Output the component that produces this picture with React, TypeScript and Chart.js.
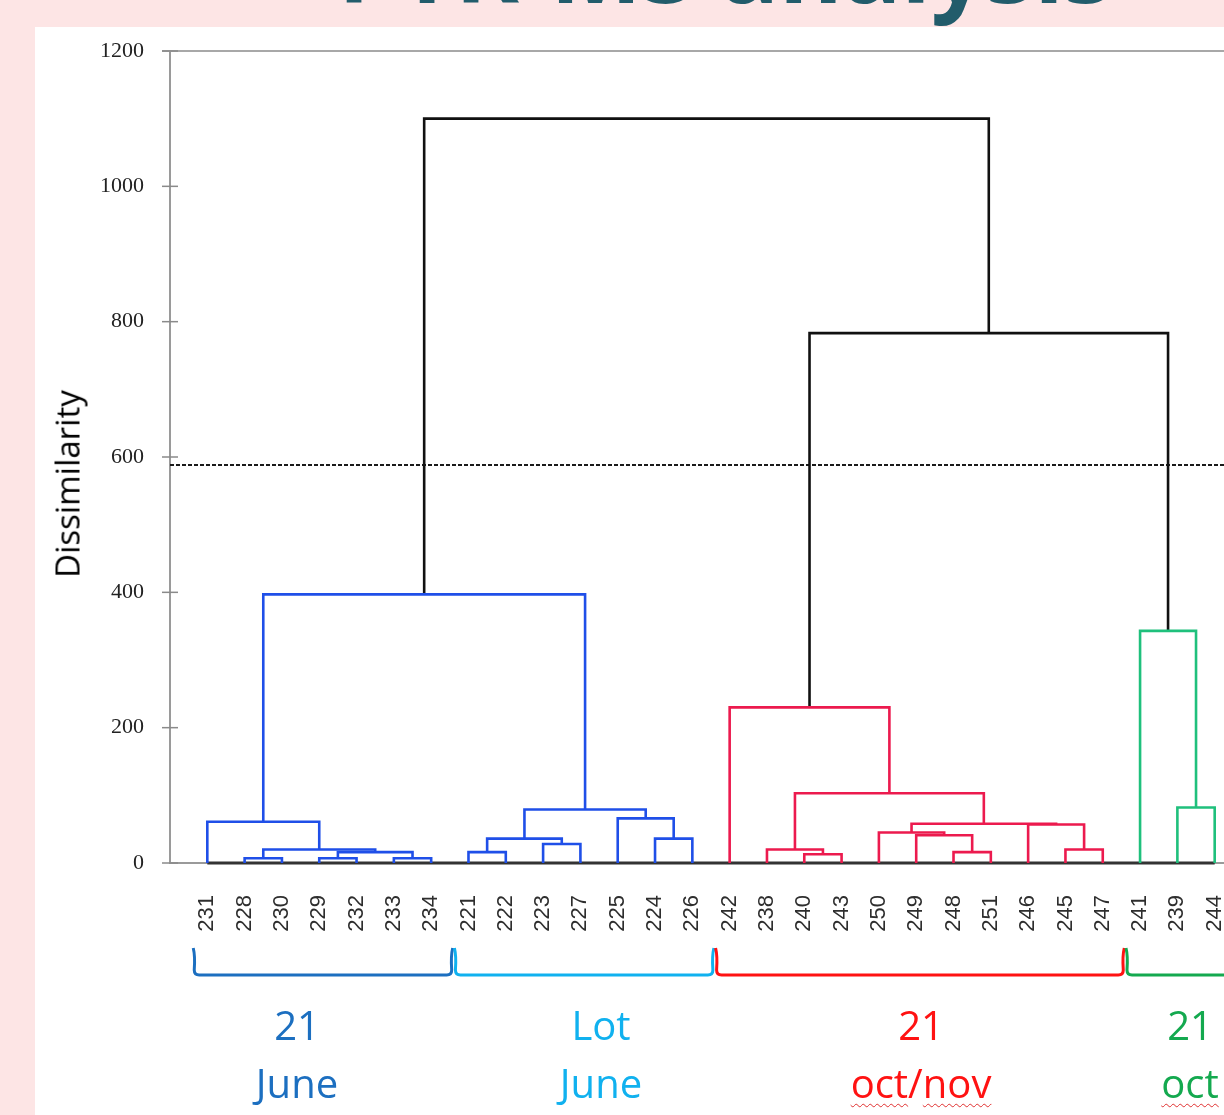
import React, { useEffect, useRef } from 'react';
import { Chart, registerables } from 'chart.js';

Chart.register(...registerables);

// ---------- data ----------
const leafLabels = [
  '231', '228', '230', '229', '232', '233', '234',
  '221', '222', '223', '227', '225', '224', '226',
  '242', '238', '240', '243', '250', '249', '248', '251', '246', '245', '247',
  '241', '239', '244',
];

// [childA, childB, dissimilarity, cluster]; ids >= leafLabels.length point to earlier merges
const merges: [number, number, number, string][] = [
  [1, 2, 7, 'blue'],        // 28
  [3, 4, 7, 'blue'],        // 29
  [5, 6, 7, 'blue'],        // 30
  [29, 30, 16, 'blue'],     // 31
  [28, 31, 20, 'blue'],     // 32
  [0, 32, 61, 'blue'],      // 33
  [7, 8, 16, 'blue'],       // 34
  [9, 10, 28, 'blue'],      // 35
  [34, 35, 36, 'blue'],     // 36
  [12, 13, 36, 'blue'],     // 37
  [11, 37, 66, 'blue'],     // 38
  [36, 38, 79, 'blue'],     // 39
  [33, 39, 397, 'blue'],    // 40
  [16, 17, 13, 'red'],      // 41
  [15, 41, 20, 'red'],      // 42
  [20, 21, 16, 'red'],      // 43
  [19, 43, 41, 'red'],      // 44
  [18, 44, 45, 'red'],      // 45
  [23, 24, 20, 'red'],      // 46
  [22, 46, 57, 'red'],      // 47
  [45, 47, 58, 'red'],      // 48
  [42, 48, 103, 'red'],     // 49
  [14, 49, 230, 'red'],     // 50
  [26, 27, 82, 'green'],    // 51
  [25, 51, 343, 'green'],   // 52
  [50, 52, 783, 'black'],   // 53
  [40, 53, 1100, 'black'],  // 54
];

const yMax = 1200;
const yStep = 200;
const truncationLevel = 588;

const groupTop = ['21', 'Lot', '21', '21'];
const groupBottom = ['June', 'June', 'oct/nov', 'oct'];
const groupFirstLeaf = [0, 7, 14, 25];
const groupLastLeaf = [6, 13, 24, 27];

// ---------- styles ----------
const clusterColors: Record<string, string> = {
  blue: '#1f4fe8',
  red: '#ec1a4e',
  green: '#1fc07c',
  black: '#111111',
};
const groupColors = ['#1c6fc0', '#10b1ef', '#ff1212', '#14a94f'];
const groupLabelCenter = [297, 601, 921, 1190];

const n = leafLabels.length;
const nodeX: number[] = [];
const nodeH: number[] = [];
leafLabels.forEach((_, i) => {
  nodeX[i] = i;
  nodeH[i] = 0;
});
merges.forEach(([a, b, h], k) => {
  nodeX[n + k] = (nodeX[a] + nodeX[b]) / 2;
  nodeH[n + k] = h;
});

const decorPlugin = {
  id: 'decor',
  afterDraw(chart: any) {
    const { ctx, chartArea, scales } = chart;
    const xs = scales.x;
    const ys = scales.y;
    ctx.save();
    // top frame line
    ctx.strokeStyle = '#a8a8a8';
    ctx.lineWidth = 2;
    const yTop = ys.getPixelForValue(yMax);
    ctx.beginPath();
    ctx.moveTo(chartArea.left - 8, yTop);
    ctx.lineTo(chartArea.right, yTop);
    ctx.stroke();
    // crossing tick marks
    ctx.strokeStyle = '#8a8a8a';
    ctx.lineWidth = 1.5;
    ys.ticks.forEach((t: any) => {
      const y = ys.getPixelForValue(t.value);
      ctx.beginPath();
      ctx.moveTo(chartArea.left - 8, y);
      ctx.lineTo(chartArea.left + 8, y);
      ctx.stroke();
    });
    // group brackets
    const top = chartArea.bottom + 85;
    const bot = chartArea.bottom + 112;
    groupFirstLeaf.forEach((f, g) => {
      const x0 = xs.getPixelForValue(f - 0.35);
      const x1 = xs.getPixelForValue(groupLastLeaf[g] + 0.55);
      ctx.strokeStyle = groupColors[g];
      ctx.lineWidth = 3;
      ctx.beginPath();
      ctx.moveTo(x0 - 1, top);
      ctx.quadraticCurveTo(x0 + 1, top + 8, x0, bot - 5);
      ctx.quadraticCurveTo(x0, bot, x0 + 5, bot);
      ctx.lineTo(x1 - 5, bot);
      ctx.quadraticCurveTo(x1, bot, x1, bot - 5);
      ctx.quadraticCurveTo(x1 - 1, top + 8, x1 + 1, top);
      ctx.stroke();
    });
    ctx.restore();
  },
};

export default function App() {
  const canvasRef = useRef<HTMLCanvasElement>(null);

  useEffect(() => {
    if (!canvasRef.current) return;
    const linkSets = merges.map(([a, b, h, c]) => ({
      data: [
        { x: nodeX[a], y: nodeH[a] },
        { x: nodeX[a], y: h },
        { x: nodeX[b], y: h },
        { x: nodeX[b], y: nodeH[b] },
      ],
      borderColor: clusterColors[c],
      borderWidth: 2.6,
      pointRadius: 0,
      tension: 0,
      fill: false,
      clip: false as any,
    }));
    const baseline = {
      data: [
        { x: 0, y: 0 },
        { x: n - 1, y: 0 },
      ],
      borderColor: '#333333',
      borderWidth: 3,
      pointRadius: 0,
      fill: false,
      clip: false as any,
    };
    const cutLine = {
      data: [
        { x: -1, y: truncationLevel },
        { x: n, y: truncationLevel },
      ],
      borderColor: '#1a1a1a',
      borderWidth: 2,
      borderDash: [4, 2],
      pointRadius: 0,
      fill: false,
      clip: false as any,
    };

    const chart = new Chart(canvasRef.current, {
      type: 'line',
      data: { datasets: [...linkSets, baseline, cutLine] as any },
      options: {
        animation: false,
        responsive: false,
        events: [],
        layout: { padding: { top: 24, right: 23, left: 0, bottom: 0 } },
        plugins: { legend: { display: false }, tooltip: { enabled: false } },
        scales: {
          x: {
            type: 'linear',
            min: -1,
            max: n,
            afterBuildTicks: (s: any) => {
              s.ticks = leafLabels.map((_, i) => ({ value: i }));
            },
            afterFit: (s: any) => {
              s.height = 252;
              s.paddingLeft = 0;
              s.paddingRight = 0;
            },
            grid: { display: false, drawTicks: false },
            border: { display: true, color: '#9a9a9a', width: 2 },
            ticks: {
              autoSkip: false,
              minRotation: 90,
              maxRotation: 90,
              padding: 32,
              color: '#2e2e2e',
              font: { family: 'Liberation Sans', size: 22 },
              callback: (v: any) => leafLabels[v] ?? '',
            },
          },
          y: {
            min: 0,
            max: yMax,
            afterFit: (s: any) => {
              s.width = 135;
              s.paddingTop = 0;
              s.paddingBottom = 0;
            },
            grid: { display: false, drawTicks: false },
            border: { display: true, color: '#9a9a9a', width: 2 },
            ticks: {
              stepSize: yStep,
              padding: 26,
              color: '#222222',
              font: { family: 'Liberation Serif', size: 22 },
              callback: (v: any) => String(v),
            },
          },
        },
      },
      plugins: [decorPlugin],
    });
    return () => chart.destroy();
  }, []);

  const wavy: React.CSSProperties = {
    textDecorationLine: 'underline',
    textDecorationStyle: 'wavy',
    textDecorationColor: '#e03030',
    textDecorationThickness: '1px',
    textUnderlineOffset: '5px',
  };

  const renderBottom = (text: string) =>
    text.includes('oct') ? (
      text.split('/').map((part, i) => (
        <React.Fragment key={i}>
          {i > 0 ? '/' : null}
          <span style={wavy}>{part}</span>
        </React.Fragment>
      ))
    ) : (
      text
    );

  return (
    <div
      style={{
        position: 'absolute',
        left: 0,
        top: 0,
        width: 1224,
        height: 1115,
        overflow: 'hidden',
        background: '#fde5e5',
        fontFamily: "'Open Sans', sans-serif",
      }}
    >
      <div
        style={{
          position: 'absolute',
          left: 338,
          top: -83,
          fontSize: 97,
          lineHeight: '97px',
          fontWeight: 700,
          color: '#225c6b',
          whiteSpace: 'nowrap',
        }}
      >
        PTR-MS analysis
      </div>
      <div
        style={{
          position: 'absolute',
          left: 35,
          top: 27,
          width: 1189,
          height: 1088,
          background: '#ffffff',
        }}
      />
      <canvas
        ref={canvasRef}
        width={1240}
        height={1088}
        style={{ position: 'absolute', left: 35, top: 27, width: 1240, height: 1088 }}
      />
      <div
        style={{
          position: 'absolute',
          left: 67,
          top: 484,
          transform: 'translate(-50%, -50%) rotate(-90deg)',
          fontSize: 33,
          lineHeight: '33px',
          color: '#000',
          whiteSpace: 'nowrap',
        }}
      >
        Dissimilarity
      </div>
      {groupTop.map((t, g) => (
        <React.Fragment key={g}>
          <div
            style={{
              position: 'absolute',
              left: groupLabelCenter[g],
              top: 1005,
              transform: 'translateX(-50%)',
              fontSize: 40,
              lineHeight: '40px',
              color: groupColors[g],
              whiteSpace: 'nowrap',
            }}
          >
            {t}
          </div>
          <div
            style={{
              position: 'absolute',
              left: groupLabelCenter[g],
              top: 1063,
              transform: 'translateX(-50%)',
              fontSize: 40,
              lineHeight: '40px',
              color: groupColors[g],
              whiteSpace: 'nowrap',
            }}
          >
            {renderBottom(groupBottom[g])}
          </div>
        </React.Fragment>
      ))}
    </div>
  );
}
